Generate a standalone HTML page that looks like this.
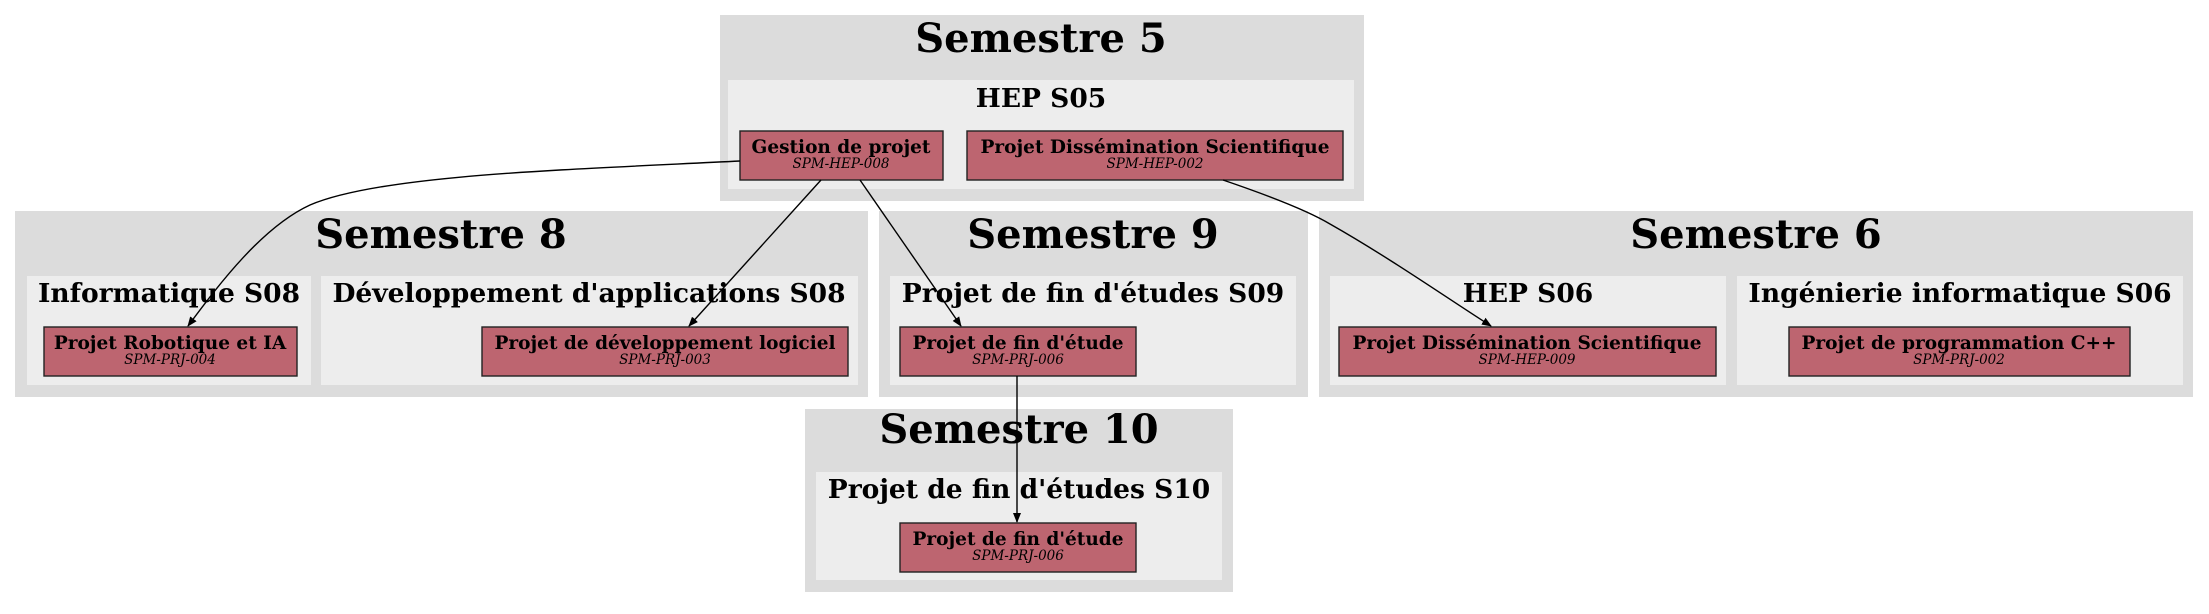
<!DOCTYPE html>
<html><head><meta charset="utf-8"><style>
body{margin:0;background:#fff}
text{font-family:"DejaVu Serif","Liberation Serif",serif}
.t{font-size:40px;font-weight:bold;text-anchor:middle}
.s{font-size:26.5px;font-weight:bold;text-anchor:middle}
.n{font-size:18.5px;font-weight:bold;text-anchor:middle}
.c{font-size:13.5px;font-style:italic;text-anchor:middle}
.o{fill:#dcdcdc}.i{fill:#ededed}.b{fill:#bd6570;stroke:#222;stroke-width:1.4}
</style></head><body>
<svg width="2209" height="609" xmlns="http://www.w3.org/2000/svg">
<defs><marker id="a" markerWidth="10" markerHeight="10" refX="9" refY="5" orient="auto" markerUnits="userSpaceOnUse"><path d="M0,1 L10,5 L0,9z" fill="#000"/></marker></defs>
<rect class="o" x="720" y="15" width="644" height="186"/>
<rect class="i" x="728" y="80" width="626" height="109"/>
<text class="t" x="1041" y="52">Semestre 5</text>
<text class="s" x="1041" y="107">HEP S05</text>
<rect class="b" x="740" y="131" width="203" height="49"/>
<text class="n" x="841" y="153">Gestion de projet</text><text class="c" x="841" y="168">SPM-HEP-008</text>
<rect class="b" x="967" y="131" width="376" height="49"/>
<text class="n" x="1155" y="153">Projet Dissémination Scientifique</text><text class="c" x="1155" y="168">SPM-HEP-002</text>
<rect class="o" x="15" y="211" width="853" height="186"/>
<rect class="i" x="27" y="276" width="284" height="109"/>
<rect class="i" x="321" y="276" width="537" height="109"/>
<text class="t" x="441" y="248">Semestre 8</text>
<text class="s" x="169" y="302">Informatique S08</text>
<text class="s" x="589" y="302">Développement d'applications S08</text>
<rect class="b" x="44" y="327" width="253" height="49"/>
<text class="n" x="170" y="349">Projet Robotique et IA</text><text class="c" x="170" y="364">SPM-PRJ-004</text>
<rect class="b" x="482" y="327" width="366" height="49"/>
<text class="n" x="665" y="349">Projet de développement logiciel</text><text class="c" x="665" y="364">SPM-PRJ-003</text>
<rect class="o" x="879" y="211" width="429" height="186"/>
<rect class="i" x="890" y="276" width="406" height="109"/>
<text class="t" x="1093" y="248">Semestre 9</text>
<text class="s" x="1093" y="302">Projet de fin d'études S09</text>
<rect class="b" x="900" y="327" width="236" height="49"/>
<text class="n" x="1018" y="349">Projet de fin d'étude</text><text class="c" x="1018" y="364">SPM-PRJ-006</text>
<rect class="o" x="1319" y="211" width="874" height="186"/>
<rect class="i" x="1330" y="276" width="396" height="109"/>
<rect class="i" x="1737" y="276" width="446" height="109"/>
<text class="t" x="1756" y="248">Semestre 6</text>
<text class="s" x="1528" y="302">HEP S06</text>
<text class="s" x="1960" y="302">Ingénierie informatique S06</text>
<rect class="b" x="1339" y="327" width="377" height="49"/>
<text class="n" x="1527" y="349">Projet Dissémination Scientifique</text><text class="c" x="1527" y="364">SPM-HEP-009</text>
<rect class="b" x="1789" y="327" width="341" height="49"/>
<text class="n" x="1959" y="349">Projet de programmation C++</text><text class="c" x="1959" y="364">SPM-PRJ-002</text>
<rect class="o" x="805" y="409" width="428" height="183"/>
<rect class="i" x="816" y="472" width="406" height="108"/>
<text class="t" x="1019" y="443">Semestre 10</text>
<text class="s" x="1019" y="498">Projet de fin d'études S10</text>
<rect class="b" x="900" y="523" width="236" height="49"/>
<text class="n" x="1018" y="545">Projet de fin d'étude</text><text class="c" x="1018" y="560">SPM-PRJ-006</text>
<g fill="none" stroke="#000" stroke-width="1.4" marker-end="url(#a)">
<path d="M740,161 C560,170 380,175 310,205 C260,228 215,290 188,326"/>
<path d="M821,180 L689,326"/>
<path d="M860,180 L961,326"/>
<path d="M1223,180 C1270,196 1310,212 1330,224 C1390,258 1450,300 1491,326"/>
<path d="M1017,376 L1017,522"/>
</g>
</svg>
</body></html>
